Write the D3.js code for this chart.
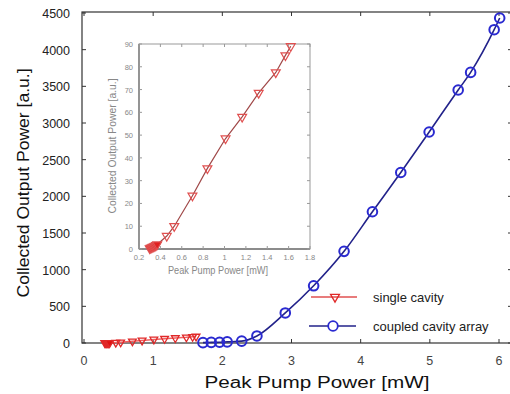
<!DOCTYPE html>
<html><head><meta charset="utf-8">
<script src="https://cdn.jsdelivr.net/npm/d3@7"></script>
<style>body{margin:0;background:#fff}svg{display:block}text{font-family:"Liberation Sans",Arial,sans-serif}</style>
</head><body><svg id="c" width="510" height="394"></svg>
<script>
// ---- data ----
const mainXTicks = [0,1,2,3,4,5,6];
const mainYTicks = [0,500,1000,1500,2000,2500,3000,3500,4000,4500];
const insetXTicks = [0.2,0.4,0.6,0.8,1,1.2,1.4,1.6,1.8];
const insetYTicks = [0,10,20,30,40,50,60,70,80,90];
const singleX = [0.30,0.31,0.32,0.33,0.34,0.35,0.36,0.37,0.46,0.53,0.70,0.84,1.01,1.165,1.32,1.48,1.57,1.62];
const singleY = [0.3,0.5,0.7,0.9,1.1,1.4,1.7,2.0,5.7,10,23.4,35.4,48.5,58,68.5,77.5,85,89];
const singleFilled = [1,1,1,1,1,1,1,1,0,0,0,0,0,0,0,0,0,0];
const coupledX = [1.72,1.84,1.96,2.07,2.28,2.50,2.91,3.32,3.76,4.17,4.58,4.99,5.41,5.59,5.93,6.01];
const coupledY = [5,8,10,15,25,96,410,780,1250,1790,2325,2877,3450,3690,4272,4432];
const seriesNames = ["single cavity","coupled cavity array"];

const svg = d3.select("#c");
const single = singleX.map((x,i)=>({x, y:singleY[i], f:singleFilled[i]}));
const coupled = coupledX.map((x,i)=>({x, y:coupledY[i]}));

// ---- main axes ----
const x = d3.scaleLinear().domain([0,6]).range([84,499]);
const y = d3.scaleLinear().domain([0,4500]).range([343,13]);
const L=82, R=512, T=12, B=343;
const frameCol="#333";
svg.append("rect").attr("x",L).attr("y",T).attr("width",R-L).attr("height",B-T)
  .attr("fill","none").attr("stroke",frameCol).attr("stroke-width",1.2);
const gx = svg.append("g");
mainXTicks.forEach(t=>{
  gx.append("line").attr("x1",x(t)).attr("x2",x(t)).attr("y1",B).attr("y2",B-4).attr("stroke",frameCol);
  gx.append("line").attr("x1",x(t)).attr("x2",x(t)).attr("y1",T).attr("y2",T+4).attr("stroke",frameCol);
  gx.append("text").attr("x",x(t)).attr("y",365).attr("text-anchor","middle")
    .attr("font-size",12.5).attr("fill","#444").text(t);
});
mainYTicks.forEach(t=>{
  gx.append("line").attr("x1",L).attr("x2",L+4).attr("y1",y(t)).attr("y2",y(t)).attr("stroke",frameCol);
  gx.append("line").attr("x1",R).attr("x2",R-4).attr("y1",y(t)).attr("y2",y(t)).attr("stroke",frameCol);
  gx.append("text").attr("x",70).attr("y",y(t)+5).attr("text-anchor","end")
    .attr("font-size",12.5).attr("fill","#222").text(t);
});
svg.append("text").attr("x",317).attr("y",388).attr("text-anchor","middle")
  .attr("font-size",16).attr("fill","#111").attr("textLength",225).attr("lengthAdjust","spacingAndGlyphs")
  .text("Peak Pump Power [mW]");
svg.append("text").attr("transform","translate(29,183) rotate(-90)").attr("text-anchor","middle")
  .attr("font-size",16).attr("fill","#111").attr("textLength",229).attr("lengthAdjust","spacingAndGlyphs")
  .text("Collected Output Power [a.u.]");

// ---- inset ----
const xi = d3.scaleLinear().domain([0.2,1.8]).range([139,310]);
const yi = d3.scaleLinear().domain([0,90]).range([249,44]);
const iL=139, iR=310, iT=44, iB=249, iCol="#999";
svg.append("rect").attr("x",iL).attr("y",iT).attr("width",iR-iL).attr("height",iB-iT)
  .attr("fill","#fff").attr("stroke",iCol).attr("stroke-width",1);
svg.append("line").attr("x1",iL).attr("x2",iL).attr("y1",iT).attr("y2",iB).attr("stroke","#777").attr("stroke-width",1.3);
svg.append("line").attr("x1",iL).attr("x2",iR).attr("y1",iB).attr("y2",iB).attr("stroke","#777").attr("stroke-width",1.3);
insetXTicks.forEach(t=>{
  svg.append("line").attr("x1",xi(t)).attr("x2",xi(t)).attr("y1",iB).attr("y2",iB-3).attr("stroke",iCol);
  svg.append("line").attr("x1",xi(t)).attr("x2",xi(t)).attr("y1",iT).attr("y2",iT+3).attr("stroke",iCol);
  svg.append("text").attr("x",xi(t)).attr("y",iB+11).attr("text-anchor","middle")
    .attr("font-size",7.5).attr("fill","#888").text(t);
});
insetYTicks.forEach(t=>{
  svg.append("line").attr("x1",iL).attr("x2",iL+3).attr("y1",yi(t)).attr("y2",yi(t)).attr("stroke",iCol);
  svg.append("line").attr("x1",iR).attr("x2",iR-3).attr("y1",yi(t)).attr("y2",yi(t)).attr("stroke",iCol);
  svg.append("text").attr("x",iL-6).attr("y",yi(t)+3).attr("text-anchor","end")
    .attr("font-size",7.5).attr("fill","#888").text(t);
});
svg.append("text").attr("x",218).attr("y",274).attr("text-anchor","middle")
  .attr("font-size",10).attr("fill","#888").attr("textLength",100).attr("lengthAdjust","spacingAndGlyphs")
  .text("Peak Pump Power [mW]");
svg.append("text").attr("transform","translate(116,146) rotate(-90)").attr("text-anchor","middle")
  .attr("font-size",10).attr("fill","#888").attr("textLength",135).attr("lengthAdjust","spacingAndGlyphs")
  .text("Collected Output Power [a.u.]");

const tri = d3.symbol().type(d3.symbolTriangle).size(34);
const triS = d3.symbol().type(d3.symbolTriangle).size(26);
// inset series
svg.append("path").datum(single).attr("fill","none").attr("stroke","#a04848").attr("stroke-width",1.2)
  .attr("d",d3.line().x(d=>xi(d.x)).y(d=>yi(d.y)));
svg.append("g").selectAll("path").data(single).join("path")
  .attr("d",tri).attr("transform",d=>`translate(${xi(d.x)},${yi(d.y)}) rotate(180)`)
  .attr("fill",d=>d.f?"#e02020":"none").attr("stroke","#e05050").attr("stroke-width",1.2);

// ---- main series ----
svg.append("path").datum(single).attr("fill","none").attr("stroke","#f06060").attr("stroke-width",1.5)
  .attr("d",d3.line().x(d=>x(d.x)).y(d=>y(d.y)));
svg.append("g").selectAll("path").data(single).join("path")
  .attr("d",triS).attr("transform",d=>`translate(${x(d.x)},${y(d.y)}) rotate(180)`)
  .attr("fill",d=>d.f?"#e01010":"none").attr("stroke","#e02828").attr("stroke-width",1.3);

svg.append("path").datum(coupled).attr("fill","none").attr("stroke","#22228a").attr("stroke-width",1.6)
  .attr("d",d3.line().curve(d3.curveMonotoneX).x(d=>x(d.x)).y(d=>y(d.y)));
svg.append("g").selectAll("circle").data(coupled).join("circle")
  .attr("cx",d=>x(d.x)).attr("cy",d=>y(d.y)).attr("r",4.8)
  .attr("fill","none").attr("stroke","#2a2ad0").attr("stroke-width",2);

// ---- legend ----
const lg = svg.append("g");
lg.append("line").attr("x1",311).attr("x2",357).attr("y1",297).attr("y2",297).attr("stroke","#e05050").attr("stroke-width",1.5);
lg.append("path").attr("d",tri).attr("transform","translate(335,297) rotate(180)")
  .attr("fill","none").attr("stroke","#e02828").attr("stroke-width",1.3);
lg.append("text").attr("x",373).attr("y",302).attr("font-size",13).attr("fill","#222").text(seriesNames[0]);
lg.append("line").attr("x1",309).attr("x2",356).attr("y1",326).attr("y2",326).attr("stroke","#22228a").attr("stroke-width",1.5);
lg.append("circle").attr("cx",333).attr("cy",326).attr("r",4.8).attr("fill","#fff").attr("stroke","#2a2ad0").attr("stroke-width",1.8);
lg.append("text").attr("x",373).attr("y",331).attr("font-size",13).attr("fill","#222").text(seriesNames[1]);
</script></body></html>
